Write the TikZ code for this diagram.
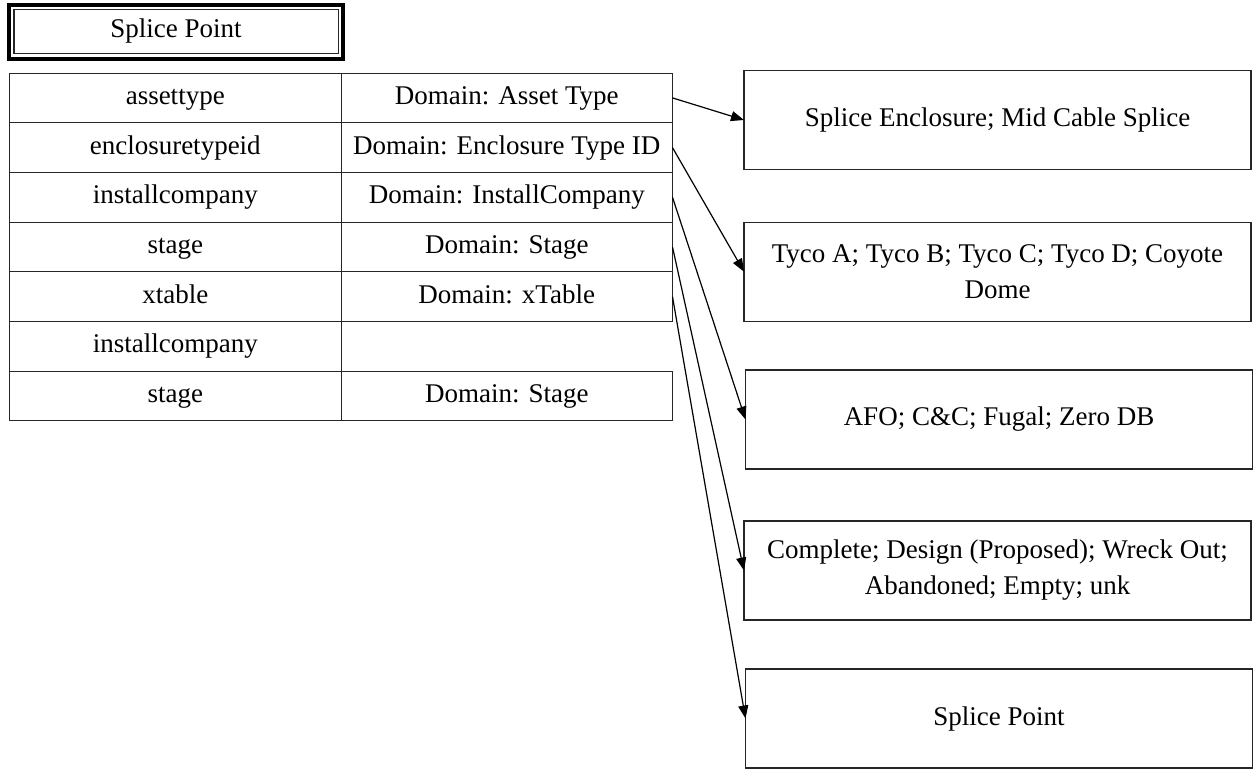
\documentclass[tikz,border=0pt]{standalone}
\usepackage{fontspec}
\setmainfont{Liberation Serif}
\usetikzlibrary{arrows.meta}
\begin{document}
\begin{tikzpicture}[x=1pt,y=-1pt,
  every node/.style={font=\fontsize{27}{34}\selectfont, inner sep=0pt, outer sep=0pt},
  cell/.style={draw=black!85, line width=1pt, minimum width=331.5pt, minimum height=49.7pt,
               text height=18.5pt, text depth=5.5pt, anchor=center},
  bare/.style={minimum width=331.5pt, minimum height=49.7pt, anchor=center},
  valbox/.style={draw=black!85, line width=1.3pt, minimum width=507pt, minimum height=99pt,
                 align=center, anchor=center, font=\fontsize{27}{36}\selectfont},
  link/.style={line width=1.2pt, -{Triangle[length=13pt,width=10pt]}}
]
\useasboundingbox (0,0) rectangle (1259,772);

% title box with double border
\draw[line width=4pt] (9,5) rectangle (343,59);
\draw[line width=1.2pt, black!85] (14,9.5) rectangle (338.5,53.5);
\node[text height=18.5pt, text depth=5.5pt] (title) at (176,31) {Splice Point};

% field table
\node[cell] (f1) at (175.25,97.9)  {assettype};
\node[cell] (d1) at (506.75,97.9)  {Domain: Asset Type};
\node[cell] (f2) at (175.25,147.6) {enclosuretypeid};
\node[cell] (d2) at (506.75,147.6) {Domain: Enclosure Type ID};
\node[cell] (f3) at (175.25,197.3) {installcompany};
\node[cell] (d3) at (506.75,197.3) {Domain: InstallCompany};
\node[cell] (f4) at (175.25,247.0) {stage};
\node[cell] (d4) at (506.75,247.0) {Domain: Stage};
\node[cell] (f5) at (175.25,296.7) {xtable};
\node[cell] (d5) at (506.75,296.7) {Domain: xTable};
\node[cell] (f6) at (175.25,346.4) {installcompany};
\node[bare] (d6) at (506.75,346.4) {};
\node[cell] (f7) at (175.25,396.1) {stage};
\node[cell] (d7) at (506.75,396.1) {Domain: Stage};

% domain value boxes
\node[valbox] (v1) at (997.5,120)   {Splice Enclosure; Mid Cable Splice};
\node[valbox] (v2) at (997.5,271.7) {Tyco A; Tyco B; Tyco C; Tyco D; Coyote\\Dome};
\node[valbox] (v3) at (999,419.5)   {AFO; C\&C; Fugal; Zero DB};
\node[valbox] (v4) at (997.5,570.5) {Complete; Design (Proposed); Wreck Out;\\Abandoned; Empty; unk};
\node[valbox] (v5) at (999,718.5)   {Splice Point};

% links from domains to their values
\draw[link] (d1.east) -- (v1.west);
\draw[link] (d2.east) -- (v2.west);
\draw[link] (d3.east) -- (v3.west);
\draw[link] (d4.east) -- (v4.west);
\draw[link] (d5.east) -- (v5.west);
\end{tikzpicture}
\end{document}
